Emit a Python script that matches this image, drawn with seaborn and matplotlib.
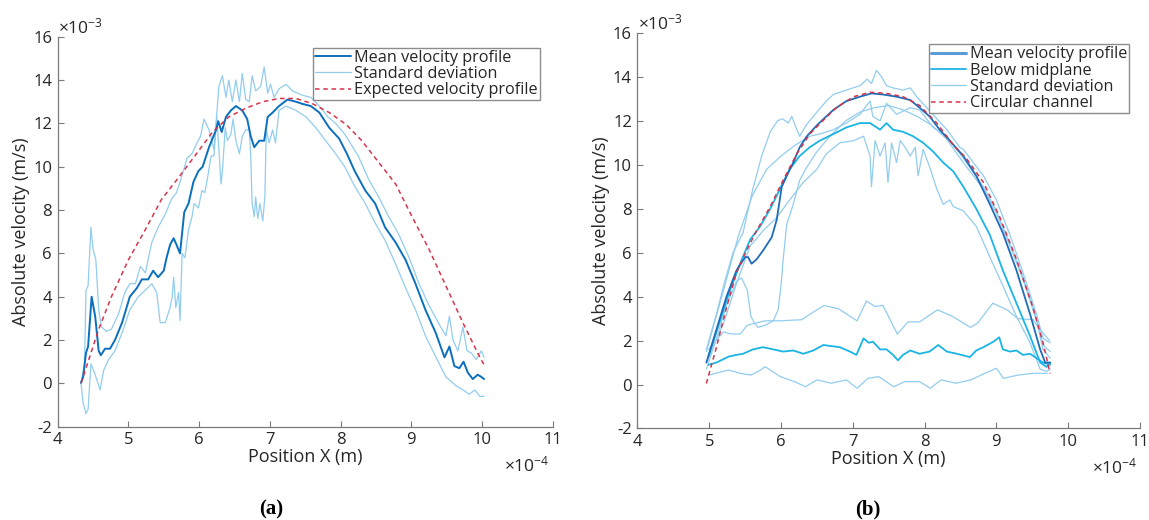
import matplotlib
matplotlib.use('Agg')
import matplotlib.pyplot as plt
import pandas as pd
import seaborn as sns

# positions in 1e-4 m, velocities in 1e-3 m/s

# ---- panel (a) ----
mean_a = [(4.33, 0.03), (4.36, 0.3), (4.40, 1.4), (4.43, 1.7), (4.48, 4.0), (4.53, 3.1), (4.58, 1.5),
          (4.61, 1.3), (4.67, 1.6), (4.74, 1.6), (4.81, 2.0), (4.91, 2.8), (5.02, 4.0), (5.12, 4.4),
          (5.19, 4.8), (5.28, 4.8), (5.35, 5.2), (5.42, 4.9), (5.50, 5.2), (5.54, 5.8), (5.59, 6.4),
          (5.64, 6.7), (5.68, 6.4), (5.73, 6.0), (5.79, 7.9), (5.85, 8.3), (5.92, 9.3), (5.99, 9.8),
          (6.05, 10.0), (6.14, 10.9), (6.24, 11.7), (6.27, 12.1), (6.32, 11.6), (6.38, 12.3), (6.45, 12.6),
          (6.52, 12.8), (6.61, 12.6), (6.68, 12.2), (6.73, 11.4), (6.78, 10.9), (6.85, 11.2), (6.92, 11.2),
          (6.97, 12.3), (7.04, 12.5), (7.13, 12.8), (7.25, 13.1), (7.37, 13.0), (7.46, 12.9), (7.58, 12.8),
          (7.70, 12.5), (7.84, 11.8), (7.98, 11.3), (8.09, 10.6), (8.20, 9.8), (8.35, 8.9), (8.49, 8.3),
          (8.63, 7.2), (8.78, 6.5), (8.92, 5.7), (9.06, 4.6), (9.20, 3.4), (9.35, 2.3), (9.47, 1.2),
          (9.54, 1.7), (9.61, 0.8), (9.68, 0.7), (9.74, 1.0), (9.80, 0.5), (9.87, 0.2), (9.94, 0.4),
          (9.99, 0.3), (10.03, 0.2)]

std_hi_a = [(4.33, 0.0), (4.38, 0.9), (4.40, 4.3), (4.43, 4.5), (4.47, 7.2), (4.50, 6.2), (4.54, 5.7),
            (4.58, 3.4), (4.62, 2.6), (4.69, 2.4), (4.76, 2.5), (4.86, 3.2), (4.95, 4.2), (5.02, 4.6),
            (5.10, 4.6), (5.17, 5.4), (5.24, 5.1), (5.33, 6.5), (5.42, 7.2), (5.52, 7.8), (5.61, 8.5),
            (5.68, 8.8), (5.75, 9.5), (5.83, 10.4), (5.90, 10.6), (5.97, 11.1), (6.02, 11.4), (6.07, 12.2),
            (6.14, 11.7), (6.21, 10.8), (6.28, 13.7), (6.33, 14.2), (6.38, 13.2), (6.42, 14.0), (6.47, 13.0),
            (6.52, 14.0), (6.57, 13.0), (6.61, 14.3), (6.66, 13.1), (6.71, 13.0), (6.75, 14.2), (6.80, 13.5),
            (6.87, 13.7), (6.92, 14.6), (6.97, 13.4), (7.01, 13.8), (7.06, 13.2), (7.13, 13.6), (7.23, 13.8),
            (7.32, 13.5), (7.46, 13.3), (7.58, 13.2), (7.70, 12.8), (7.82, 12.3), (7.93, 12.0), (8.06, 11.5),
            (8.25, 10.5), (8.40, 9.4), (8.54, 8.6), (8.68, 7.7), (8.82, 6.9), (8.97, 5.8), (9.11, 4.6),
            (9.25, 3.6), (9.40, 2.7), (9.49, 2.2), (9.54, 3.1), (9.59, 2.0), (9.66, 1.5), (9.73, 2.6),
            (9.79, 1.5), (9.85, 1.4), (9.92, 1.1), (9.99, 1.5), (10.03, 1.2)]

std_lo_a = [(4.33, 0.0), (4.36, -0.9), (4.40, -1.4), (4.43, -1.2), (4.47, 0.9), (4.52, 0.5), (4.57, 0.0),
            (4.60, -0.3), (4.65, 0.6), (4.72, 1.1), (4.81, 1.5), (4.93, 2.5), (5.02, 3.4), (5.14, 4.0),
            (5.24, 4.3), (5.33, 4.6), (5.40, 4.2), (5.45, 2.8), (5.52, 2.8), (5.59, 3.5), (5.62, 4.0),
            (5.64, 4.9), (5.67, 3.5), (5.71, 4.2), (5.73, 2.9), (5.76, 6.0), (5.80, 5.8), (5.85, 7.1),
            (5.90, 7.7), (5.93, 8.3), (5.99, 8.1), (6.04, 8.9), (6.08, 8.8), (6.12, 9.5), (6.17, 10.5),
            (6.21, 10.5), (6.25, 12.3), (6.28, 10.8), (6.31, 9.2), (6.33, 9.8), (6.37, 11.8), (6.40, 11.2),
            (6.45, 11.5), (6.48, 12.2), (6.52, 11.2), (6.57, 10.6), (6.61, 11.4), (6.66, 11.7), (6.71, 11.7),
            (6.73, 10.5), (6.75, 8.3), (6.78, 7.7), (6.80, 8.6), (6.83, 7.6), (6.86, 8.3), (6.90, 7.5),
            (6.93, 8.6), (6.95, 11.7), (6.99, 11.1), (7.04, 11.7), (7.08, 11.1), (7.13, 12.6), (7.23, 12.8),
            (7.37, 12.6), (7.51, 12.3), (7.65, 11.8), (7.79, 11.2), (7.93, 10.6), (8.06, 10.0), (8.20, 9.1),
            (8.35, 8.3), (8.49, 7.4), (8.63, 6.6), (8.78, 5.5), (8.92, 4.4), (9.06, 3.4), (9.20, 2.2),
            (9.35, 1.2), (9.49, 0.3), (9.63, -0.1), (9.73, -0.3), (9.82, -0.5), (9.90, -0.3), (9.97, -0.6),
            (10.03, -0.6)]

expected_a = [(4.33, 0.0), (4.58, 2.5), (4.76, 4.0), (5.00, 5.7), (5.24, 7.1), (5.47, 8.5), (5.71, 9.5),
              (5.94, 10.5), (6.19, 11.6), (6.42, 12.3), (6.66, 12.7), (6.90, 13.0), (7.13, 13.15),
              (7.37, 13.15), (7.61, 12.9), (7.84, 12.5), (8.08, 11.95), (8.30, 11.2), (8.54, 10.2),
              (8.78, 9.2), (9.01, 7.7), (9.25, 6.2), (9.49, 4.5), (9.73, 2.8), (9.97, 1.2), (10.04, 0.8)]

# ---- panel (b) ----
mean_b = [(4.96, 1.0), (5.10, 2.5), (5.24, 4.0), (5.38, 5.2), (5.50, 5.8), (5.54, 5.8), (5.59, 5.5),
          (5.66, 5.7), (5.75, 6.1), (5.87, 6.7), (5.94, 7.5), (6.01, 9.0), (6.08, 9.5), (6.17, 10.1),
          (6.26, 10.8), (6.36, 11.3), (6.50, 11.8), (6.63, 12.2), (6.73, 12.5), (6.91, 12.9), (7.10, 13.1),
          (7.26, 13.25), (7.42, 13.2), (7.61, 13.1), (7.80, 12.95), (7.93, 12.6), (8.07, 12.2), (8.21, 11.6),
          (8.35, 11.1), (8.54, 10.4), (8.72, 9.5), (8.91, 8.2), (9.09, 6.9), (9.28, 5.2), (9.47, 3.2),
          (9.61, 1.6), (9.68, 1.0), (9.75, 1.0)]

mean_hi_b = [(4.96, 1.6), (5.10, 3.2), (5.20, 4.5), (5.33, 6.0), (5.47, 6.9), (5.60, 8.8), (5.73, 10.4),
             (5.85, 11.5), (5.95, 12.0), (6.02, 12.1), (6.10, 11.9), (6.15, 12.2), (6.22, 11.6), (6.26, 11.3),
             (6.35, 11.8), (6.50, 12.4), (6.63, 12.9), (6.73, 13.2), (6.91, 13.4), (7.10, 13.6), (7.20, 13.9),
             (7.26, 13.7), (7.33, 14.3), (7.40, 14.0), (7.47, 13.6), (7.56, 13.5), (7.70, 13.4), (7.80, 13.5),
             (7.89, 13.1), (8.03, 12.6), (8.17, 12.1), (8.31, 11.6), (8.49, 10.8), (8.54, 10.7), (8.82, 9.5),
             (9.00, 8.4), (9.19, 6.8), (9.37, 5.1), (9.56, 3.2), (9.65, 2.1), (9.75, 1.9)]

mean_lo_b = [(4.96, 0.7), (5.10, 2.1), (5.24, 3.6), (5.38, 4.7), (5.45, 4.85), (5.53, 4.3), (5.58, 3.1),
             (5.63, 2.8), (5.68, 2.6), (5.78, 2.7), (5.89, 2.9), (5.96, 3.4), (6.00, 4.5), (6.03, 5.7),
             (6.08, 7.3), (6.17, 8.2), (6.26, 9.3), (6.36, 9.9), (6.50, 10.6), (6.68, 11.3), (6.90, 12.0),
             (7.10, 12.4), (7.30, 12.6), (7.50, 12.7), (7.70, 12.5), (7.90, 12.2), (8.10, 11.8), (8.30, 11.2),
             (8.54, 10.1), (8.82, 8.9), (9.00, 7.8), (9.19, 6.3), (9.37, 4.8), (9.56, 2.9), (9.65, 1.6),
             (9.75, 1.2)]

below_b = [(4.99, 1.3), (5.15, 2.9), (5.29, 4.3), (5.43, 5.5), (5.57, 6.6), (5.71, 7.2), (5.85, 8.0),
           (6.00, 9.0), (6.12, 9.8), (6.26, 10.4), (6.40, 10.8), (6.54, 11.1), (6.73, 11.4), (6.91, 11.7),
           (7.10, 11.9), (7.24, 11.9), (7.38, 11.6), (7.47, 11.9), (7.56, 11.6), (7.70, 11.5), (7.84, 11.3),
           (7.98, 11.0), (8.12, 10.6), (8.26, 10.1), (8.40, 9.7), (8.54, 9.0), (8.72, 8.0), (8.91, 6.8),
           (9.09, 5.2), (9.28, 3.7), (9.47, 2.2), (9.61, 1.0), (9.70, 0.8), (9.75, 1.0)]

below_hi_b = [(4.96, 1.5), (5.20, 4.3), (5.40, 6.7), (5.60, 8.6), (5.80, 9.8), (6.00, 10.4), (6.20, 10.9),
              (6.40, 11.3), (6.54, 11.4), (6.73, 11.6), (6.91, 11.9), (7.10, 12.3), (7.24, 12.9), (7.28, 12.2),
              (7.38, 12.0), (7.47, 12.8), (7.61, 12.3), (7.80, 12.6), (7.93, 12.5), (8.12, 11.7), (8.31, 11.3),
              (8.54, 10.3), (8.82, 9.0), (9.00, 7.9), (9.19, 6.4), (9.37, 4.9), (9.56, 3.0), (9.65, 1.8),
              (9.75, 1.5)]

below_lo_b = [(4.96, 1.0), (5.20, 2.8), (5.38, 4.6), (5.57, 6.3), (5.75, 7.0), (5.94, 7.6), (6.12, 8.4),
              (6.31, 9.2), (6.50, 9.8), (6.63, 10.5), (6.82, 11.0), (7.01, 11.1), (7.15, 11.3), (7.24, 10.4),
              (7.26, 9.0), (7.31, 11.1), (7.38, 10.4), (7.45, 11.0), (7.49, 9.2), (7.54, 11.0), (7.61, 10.1),
              (7.66, 11.1), (7.73, 10.8), (7.80, 10.4), (7.87, 10.8), (7.91, 9.5), (7.98, 10.7), (8.07, 9.9),
              (8.17, 8.9), (8.26, 8.2), (8.35, 8.4), (8.40, 8.1), (8.54, 7.9), (8.72, 7.2), (8.91, 5.8),
              (9.09, 4.5), (9.28, 3.1), (9.47, 1.9), (9.61, 0.7), (9.70, 0.6), (9.75, 0.7)]

flat_b = [(4.99, 0.9), (5.10, 1.0), (5.27, 1.27), (5.38, 1.35), (5.47, 1.4), (5.61, 1.6), (5.75, 1.7),
          (5.89, 1.6), (6.03, 1.5), (6.17, 1.55), (6.31, 1.4), (6.45, 1.55), (6.59, 1.8), (6.70, 1.75),
          (6.82, 1.7), (6.96, 1.5), (7.05, 1.35), (7.15, 2.1), (7.22, 1.9), (7.28, 1.95), (7.38, 1.6),
          (7.47, 1.6), (7.56, 1.35), (7.63, 1.1), (7.70, 1.35), (7.80, 1.55), (7.93, 1.4), (8.07, 1.5),
          (8.19, 1.8), (8.31, 1.5), (8.45, 1.4), (8.63, 1.25), (8.72, 1.55), (8.82, 1.7), (8.96, 1.95),
          (9.04, 2.15), (9.09, 1.6), (9.19, 1.5), (9.28, 1.55), (9.37, 1.35), (9.47, 1.4), (9.56, 1.2),
          (9.65, 1.0), (9.75, 0.9)]

flat_hi_b = [(4.99, 1.6), (5.07, 1.9), (5.20, 2.4), (5.30, 2.3), (5.43, 2.3), (5.53, 2.7), (5.78, 2.9),
             (5.99, 2.9), (6.29, 2.95), (6.40, 3.2), (6.60, 3.6), (6.80, 3.45), (7.06, 2.9), (7.19, 3.8),
             (7.31, 3.55), (7.42, 3.6), (7.62, 2.3), (7.77, 2.85), (7.93, 2.85), (8.18, 3.4), (8.39, 3.1),
             (8.64, 2.6), (8.74, 2.8), (8.95, 3.7), (9.15, 3.4), (9.30, 3.0), (9.51, 2.95), (9.61, 2.5),
             (9.74, 2.0)]

flat_lo_b = [(4.99, 0.43), (5.27, 0.66), (5.43, 0.51), (5.58, 0.43), (5.68, 0.59), (5.78, 0.81),
             (5.99, 0.36), (6.19, 0.13), (6.34, -0.1), (6.50, 0.21), (6.70, 0.06), (6.91, 0.21), (7.06, -0.17),
             (7.21, 0.28), (7.36, 0.36), (7.57, -0.1), (7.72, 0.13), (7.93, 0.13), (8.08, -0.17), (8.23, 0.21),
             (8.44, 0.06), (8.64, 0.21), (8.84, 0.51), (9.00, 0.74), (9.10, 0.28), (9.30, 0.43), (9.51, 0.51),
             (9.71, 0.51)]

circular_b = [(4.96, 0.05), (5.10, 1.7), (5.24, 3.5), (5.38, 5.1), (5.52, 6.1), (5.66, 7.0), (5.85, 8.1),
              (6.03, 9.3), (6.22, 10.5), (6.40, 11.4), (6.58, 12.0), (6.77, 12.6), (7.01, 13.1), (7.24, 13.3),
              (7.47, 13.25), (7.70, 13.1), (7.93, 12.7), (8.17, 11.9), (8.40, 10.9), (8.58, 10.3),
              (8.82, 9.2), (9.05, 7.6), (9.28, 5.7), (9.51, 3.5), (9.65, 1.9), (9.75, 0.5)]

MEAN = '#0a6fbd'
STD = '#92cdee'
CYAN = '#1ab4e6'
RED = '#d8334a'
INK = '#262626'
AXIS = '#7a7a7a'

sns.set_theme(style='ticks')
plt.rcParams['font.family'] = ['Open Sans', 'DejaVu Sans']
plt.rcParams['axes.unicode_minus'] = False
plt.rcParams['mathtext.fontset'] = 'custom'
plt.rcParams['mathtext.rm'] = 'Open Sans'


def draw(ax, pts, **kw):
    d = pd.DataFrame(pts, columns=['x', 'y'])
    sns.lineplot(data=d, x='x', y='y', ax=ax, estimator=None, sort=False, **kw)
    return ax.lines[-1]


def style(ax):
    ax.set_xlim(4, 11)
    ax.set_ylim(-2, 16)
    ax.set_xticks(range(4, 12))
    ax.set_yticks(range(-2, 17, 2))
    sns.despine(ax=ax)
    for s in ['left', 'bottom']:
        ax.spines[s].set_color(AXIS)
        ax.spines[s].set_linewidth(0.9)
    ax.tick_params(direction='in', length=4, width=0.8, color=AXIS, labelcolor=INK, labelsize=12, pad=4)
    ax.set_xlabel('Position X (m)', fontsize=13, color=INK, labelpad=0)
    ax.set_ylabel('Absolute velocity (m/s)', fontsize=13, color=INK, labelpad=2)
    ax.annotate(r'$\times\mathregular{10^{-3}}$', xy=(0, 1), xycoords='axes fraction', xytext=(0.5, 2.5),
                textcoords='offset points', ha='left', va='baseline', fontsize=12.5, color=INK)
    ax.annotate(r'$\times\mathregular{10^{-4}}$', xy=(1, 0), xycoords='axes fraction', xytext=(-2, -32.5),
                textcoords='offset points', ha='right', va='baseline', fontsize=12.5, color=INK)


fig = plt.figure(figsize=(11.49, 5.2), dpi=100)
ax1 = fig.add_axes([0.0502, 0.1794, 0.4308, 0.75])
ax2 = fig.add_axes([0.5548, 0.1760, 0.4373, 0.7606])

legend_kw = dict(loc='upper right', borderaxespad=0, fontsize=11.7, frameon=True, fancybox=False,
                 edgecolor='#8c8c8c', framealpha=1, handlelength=2.2, handletextpad=0.2,
                 borderpad=0.12, labelspacing=0.02)

# (a)
h_std = draw(ax1, std_hi_a, color=STD, lw=0.9)
draw(ax1, std_lo_a, color=STD, lw=0.9)
h_mean = draw(ax1, mean_a, color=MEAN, lw=1.4)
h_exp = draw(ax1, expected_a, color=RED, lw=1.1, dashes=(3, 2.4))
style(ax1)
ax1.legend([h_mean, h_std, h_exp], ['Mean velocity profile', 'Standard deviation', 'Expected velocity profile'],
           bbox_to_anchor=(0.9735, 0.9718), **legend_kw)

# (b)
for pts in [flat_hi_b, flat_lo_b, below_hi_b, below_lo_b, mean_hi_b, mean_lo_b]:
    h_std_b = draw(ax2, pts, color=STD, lw=0.9)
draw(ax2, flat_b, color=CYAN, lw=1.3)
h_below = draw(ax2, below_b, color=CYAN, lw=1.3)
h_mean_b = draw(ax2, mean_b, color='#1f6cb8', lw=1.3)
h_circ = draw(ax2, circular_b, color=RED, lw=1.1, dashes=(3, 2.4))
style(ax2)
leg = ax2.legend([h_mean_b, h_below, h_std_b, h_circ],
                 ['Mean velocity profile', 'Below midplane', 'Standard deviation', 'Circular channel'],
                 bbox_to_anchor=(0.978, 0.9714), **legend_kw)
leg.get_lines()[0].set_linewidth(2.2)
leg.get_lines()[0].set_color('#5a9bd6')

fig.text(271 / 1149, 1 - 509 / 520, '(a)', ha='center', va='center', fontsize=15,
         family='Liberation Serif', weight='bold', color='black')
fig.text(868 / 1149, 1 - 509 / 520, '(b)', ha='center', va='center', fontsize=15,
         family='Liberation Serif', weight='bold', color='black')

fig.savefig('out.png', dpi=100)
